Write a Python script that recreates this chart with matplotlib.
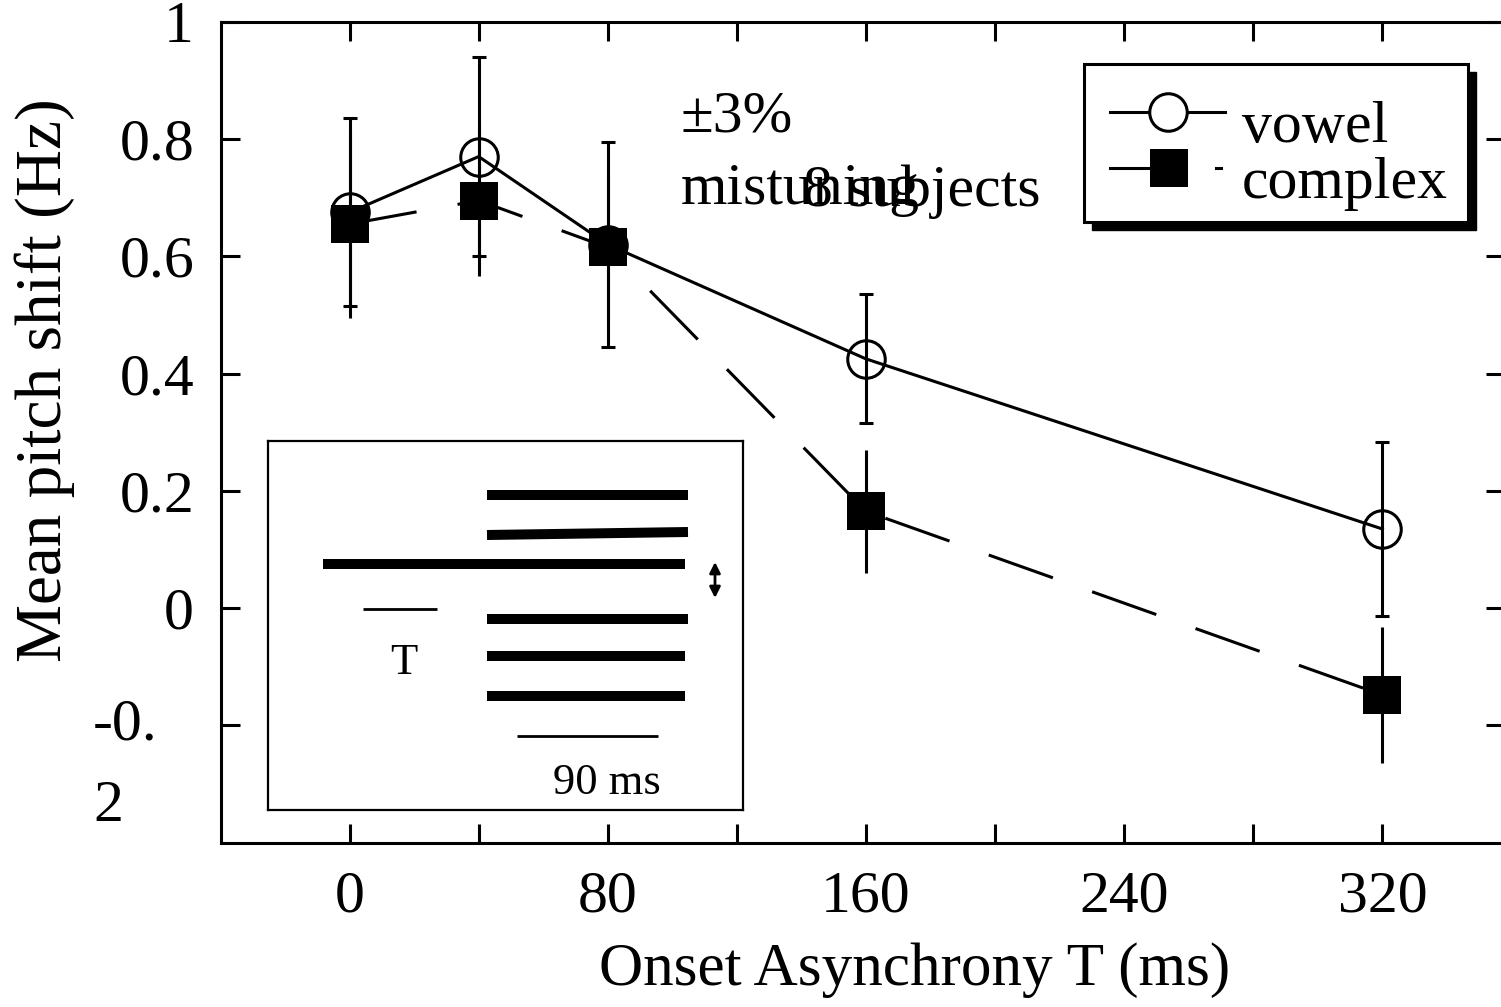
import matplotlib
matplotlib.use("Agg")
import matplotlib.pyplot as plt
from matplotlib.lines import Line2D
from matplotlib.patches import Rectangle
from matplotlib.transforms import blended_transform_factory

plt.rcParams['font.family'] = ['Liberation Serif', 'DejaVu Serif']
plt.rcParams['lines.scale_dashes'] = False

# ---------------- data ----------------
asynchrony = [0, 40, 80, 160, 320]
vowel_mean = [0.675, 0.77, 0.62, 0.425, 0.135]
vowel_err = [0.16, 0.17, 0.175, 0.11, 0.148]
complex_mean = [0.655, 0.695, 0.615, 0.165, -0.148]
complex_err = [0.16, 0.129, 0.126, 0.105, 0.116]

xticks_major = [0, 80, 160, 240, 320]
xticks_minor = [40, 120, 200, 280]
yticks = [1.0, 0.8, 0.6, 0.4, 0.2, 0.0, -0.2]
ytick_labels = ['1', '0.8', '0.6', '0.4', '0.2', '0', '']

FS = 43
W, H = 1501, 1007
fig = plt.figure(figsize=(W / 100, H / 100), dpi=100)


def fx(x):
    return x / W


def fy(y):
    return 1 - y / H


ax_left, ax_right, ax_top, ax_bot = 220.5, 1505.0, 21.7, 842.7
ax = fig.add_axes([fx(ax_left), fy(ax_bot), (ax_right - ax_left) / W, (ax_bot - ax_top) / H])
ax.set_xlim(-40, 358)
ax.set_ylim(-0.4, 1.0)

LW = 2.2
for s in ax.spines.values():
    s.set_linewidth(LW)

ax.errorbar(asynchrony, vowel_mean, yerr=vowel_err, color='black', lw=LW,
            marker='o', ms=27, mfc='none', mec='black', mew=LW,
            capsize=5, capthick=LW, elinewidth=LW, zorder=3)
ax.errorbar(asynchrony, complex_mean, yerr=complex_err, color='black', lw=LW,
            ls=(0, (49, 30)), marker='s', ms=27, mfc='black', mec='black', mew=0,
            capsize=5, capthick=LW, elinewidth=LW, zorder=4)

ax.set_xticks(xticks_major)
ax.set_xticks(xticks_minor, minor=True)
ax.set_yticks(yticks)
ax.set_yticklabels(ytick_labels)
ax.tick_params(which='both', direction='in', length=13.5, width=LW,
               top=True, right=True, labelsize=FS)
ax.tick_params(axis='x', which='both', pad=20)
ax.tick_params(axis='y', which='both', pad=19)

# split "-0.2" label as in the reference
tr = blended_transform_factory(ax.transAxes, ax.transData)
ax.text((93 - ax_left) / (ax_right - ax_left), -0.2, '-0.', transform=tr,
        ha='left', va='center', fontsize=FS, clip_on=False)
ax.text((93 - ax_left) / (ax_right - ax_left), -0.339, '2', transform=tr,
        ha='left', va='center', fontsize=FS, clip_on=False)

# axis labels
fig.text(fx(45), fy(380), 'Mean pitch shift (Hz)', rotation=90, ha='center', va='center', fontsize=47)
fig.text(fx(915), fy(970), 'Onset Asynchrony T (ms)', ha='center', va='center', fontsize=44)

# annotations
ax.text(102.5, 0.813, '±3%', fontsize=FS, ha='left', va='baseline')
ax.text(102.5, 0.689, 'mistuning', fontsize=FS, ha='left', va='baseline')
ax.text(140.6, 0.686, '8 subjects', fontsize=FS, ha='left', va='baseline')

# ---------------- legend (drawn by hand) ----------------
lx0, ly0, lx1, ly1 = 1084, 64, 1468, 222
sh = 8
fig.patches.append(Rectangle((fx(lx0 + sh), fy(ly1 + sh)), (lx1 - lx0) / W, (ly1 - ly0) / H,
                             transform=fig.transFigure, facecolor='black', edgecolor='black', zorder=10))
fig.patches.append(Rectangle((fx(lx0), fy(ly1)), (lx1 - lx0) / W, (ly1 - ly0) / H,
                             transform=fig.transFigure, facecolor='white', edgecolor='black',
                             lw=LW, zorder=11))
fig.lines.append(Line2D([fx(1110), fx(1225)], [fy(112), fy(112)], transform=fig.transFigure,
                        color='black', lw=LW, zorder=12))
fig.lines.append(Line2D([fx(1168)], [fy(112)], transform=fig.transFigure, marker='o', ms=27,
                        mfc='white', mec='black', mew=LW, zorder=13))
fig.lines.append(Line2D([fx(1110), fx(1150)], [fy(168), fy(168)], transform=fig.transFigure,
                        color='black', lw=LW, zorder=12))
fig.lines.append(Line2D([fx(1216), fx(1221)], [fy(168), fy(168)], transform=fig.transFigure,
                        color='black', lw=LW, zorder=12))
fig.lines.append(Line2D([fx(1169)], [fy(168)], transform=fig.transFigure, marker='s', ms=27,
                        mfc='black', mec='black', mew=0, zorder=13))
fig.text(fx(1242), fy(142), 'vowel', fontsize=FS, ha='left', va='baseline', zorder=14)
fig.text(fx(1242), fy(198), 'complex', fontsize=FS, ha='left', va='baseline', zorder=14)

# ---------------- inset schematic ----------------
ix0, iy0, ix1, iy1 = 268, 441, 743, 810
ins = fig.add_axes([fx(ix0), fy(iy1), (ix1 - ix0) / W, (iy1 - iy0) / H])
ins.set_xlim(0, ix1 - ix0)
ins.set_ylim(iy1 - iy0, 0)
ins.set_xticks([])
ins.set_yticks([])
for s in ins.spines.values():
    s.set_linewidth(1.6)

bars_x = [(219, 420), (219, 420), (55, 417), (219, 420), (219, 417), (219, 417)]
bars_y = [(54, 54), (94, 91), (123, 123), (178, 178), (215, 215), (255, 255)]
for (xa, xb), (ya, yb) in zip(bars_x, bars_y):
    ins.plot([xa, xb], [ya, yb], color='black', lw=7.2, solid_capstyle='butt')
ins.plot([95, 169], [168, 168], color='black', lw=2, solid_capstyle='butt')
ins.plot([249, 390], [295, 295], color='black', lw=2, solid_capstyle='butt')
ins.text(136, 222, 'T', fontsize=32, ha='center', va='center')
ins.text(339, 342, '90 ms', fontsize=32, ha='center', va='center')
ins.annotate('', xy=(447, 121), xytext=(447, 157),
             arrowprops=dict(arrowstyle='<|-|>', color='black', lw=2,
                             mutation_scale=16, shrinkA=0, shrinkB=0))

fig.savefig('out.png', dpi=100)
